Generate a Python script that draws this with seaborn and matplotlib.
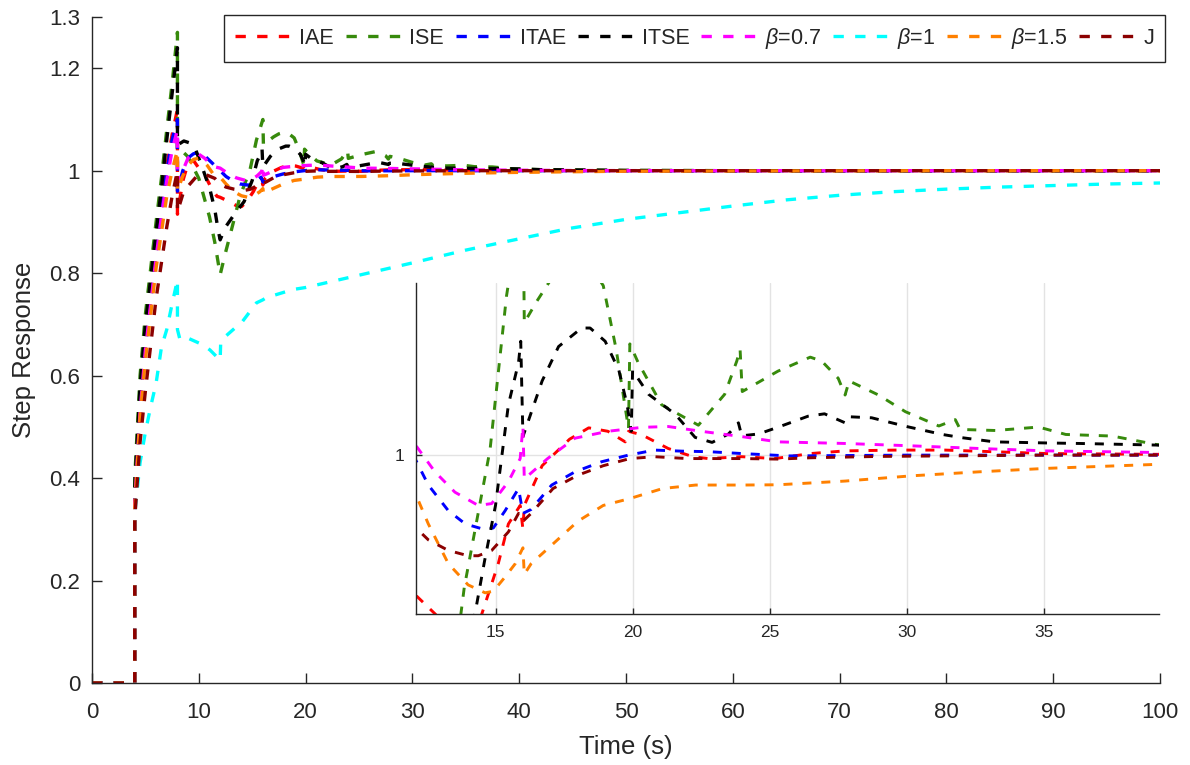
import matplotlib
matplotlib.use("Agg")
import matplotlib.pyplot as plt
import seaborn as sns
import pandas as pd

# ---------------- data ----------------
series_names = ["IAE", "ISE", "ITAE", "ITSE", r"$\beta$=0.7", r"$\beta$=1", r"$\beta$=1.5", "J"]
series_colors = ["#ff0000", "#378a0c", "#0000ff", "#000000", "#ff00ff", "#00ffff", "#ff8000", "#8b0000"]

iae_points = [(0, 0), (4, 0), (4, 0.36), (4.5, 0.55), (5, 0.67), (5.5, 0.76), (6, 0.85), (6.5, 0.93),
              (7, 1.01), (7.5, 1.07), (8, 1.12), (8, 0.915), (8.5, 0.98), (9, 1.015), (9.5, 1.02),
              (10, 1.005), (10.6, 0.99), (11.2, 0.965), (11.7, 0.95), (12, 0.948), (12.8, 0.94),
              (13.5, 0.932), (14, 0.93), (14.5, 0.94), (15.1, 0.959), (15.47, 0.974), (15.9, 0.981),
              (16.0, 0.972), (16.05, 0.981), (16.7, 0.996), (17.7, 1.006), (18.4, 1.0103), (19.1, 1.009),
              (19.73, 1.005), (19.85, 1.009), (20.35, 1.0076), (21.3, 1.0025), (22.2, 0.9994),
              (22.76, 0.9987), (23.98, 0.9994), (25.2, 0.9987), (26.5, 1.0006), (27.75, 1.0016),
              (29.6, 1.0019), (31.4, 1.0019), (35.1, 1.0006), (39.1, 1.0003), (45, 1.0), (60, 1.0),
              (80, 1.0), (100, 1.0)]

ise_points = [(0, 0), (4, 0), (4, 0.40), (4.5, 0.60), (5, 0.72), (5.5, 0.81), (6, 0.90), (6.5, 0.985),
              (7, 1.08), (7.5, 1.17), (8, 1.27), (8, 1.035), (8.5, 1.037), (9, 1.027), (10, 0.985),
              (11, 0.91), (11.5, 0.86), (12, 0.797), (12.5, 0.84), (13, 0.88), (13.86, 0.95),
              (14.8, 1.002), (15.4, 1.06), (16.0, 1.10), (16.05, 1.05), (16.5, 1.058), (17, 1.066),
              (17.5, 1.072), (18, 1.075), (18.5, 1.071), (18.93, 1.064), (19.4, 1.04), (19.85, 1.010),
              (19.9, 1.042), (20.2, 1.035), (21.06, 1.019), (22.4, 1.0113), (23.36, 1.023),
              (23.8, 1.0355), (23.92, 1.04), (24.0, 1.024), (25.3, 1.0317), (26.48, 1.037),
              (26.9, 1.0355), (27.5, 1.029), (27.75, 1.0227), (27.9, 1.028), (28.97, 1.0227),
              (29.95, 1.0164), (31.17, 1.011), (31.77, 1.0134), (31.95, 1.0097), (33.23, 1.0093),
              (34.81, 1.0106), (35.8, 1.0078), (37.5, 1.0072), (39.1, 1.004), (42, 1.002),
              (50, 1.0005), (60, 1.0), (80, 1.0), (100, 1.0)]

itae_points = [(0, 0), (4, 0), (4, 0.35), (4.5, 0.54), (5, 0.66), (5.5, 0.75), (6, 0.84), (6.5, 0.92),
               (7, 1.0), (7.5, 1.06), (8, 1.10), (8, 0.96), (8.5, 1.0), (9, 1.025), (9.5, 1.033),
               (9.9, 1.035), (10.5, 1.03), (11, 1.02), (11.5, 1.01), (12, 1.0), (12.55, 0.9887),
               (13.28, 0.979), (13.9, 0.974), (14.6, 0.9719), (14.92, 0.9725), (15.35, 0.979),
               (15.84, 0.9874), (16.0, 0.978), (16.3, 0.9795), (17.05, 0.9887), (17.9, 0.9937),
               (18.87, 0.9975), (19.85, 1.0), (20.8, 1.0019), (21.8, 1.0015), (22.77, 1.0013),
               (23.98, 1.0006), (25.69, 0.9997), (30, 1.0), (50, 1.0), (75, 1.0), (100, 1.0)]

itse_points = [(0, 0), (4, 0), (4, 0.38), (4.5, 0.58), (5, 0.70), (5.5, 0.79), (6, 0.88), (6.5, 0.965),
               (7, 1.06), (7.5, 1.15), (8, 1.24), (8, 1.05), (8.6, 1.058), (9.18, 1.054), (9.64, 1.045),
               (10.4, 1.002), (11.05, 0.963), (11.5, 0.924), (11.8, 0.885), (12.0, 0.865),
               (12.5, 0.89), (13, 0.905), (13.5, 0.92), (14.0, 0.933), (14.25, 0.94), (14.6, 0.96),
               (15.0, 0.981), (15.47, 1.019), (15.84, 1.035), (15.92, 1.043), (16.0, 1.007),
               (16.1, 1.01), (16.7, 1.028), (17.3, 1.041), (18.14, 1.048), (18.45, 1.048),
               (19.0, 1.043), (19.5, 1.032), (19.8, 1.019), (19.95, 1.009), (20.0, 1.032),
               (20.58, 1.023), (21.55, 1.0155), (22.28, 1.0067), (22.9, 1.0048), (23.5, 1.008),
               (23.86, 1.0122), (23.98, 1.0073), (24.6, 1.008), (25.4, 1.0109), (26.4, 1.0147),
               (27.0, 1.0156), (27.75, 1.0122), (27.87, 1.0145), (28.72, 1.0141), (29.95, 1.0109),
               (31.3, 1.0078), (32.0, 1.0066), (33.2, 1.005), (35.06, 1.0046), (36.3, 1.0044),
               (39.1, 1.0038), (42, 1.002), (50, 1.0005), (60, 1.0), (80, 1.0), (100, 1.0)]

b07_points = [(0, 0), (4, 0), (4, 0.35), (4.5, 0.53), (5, 0.65), (5.5, 0.74), (6, 0.83), (6.5, 0.91),
              (7, 0.98), (7.5, 1.04), (8, 1.08), (8, 0.975), (8.5, 1.0), (9, 1.025), (9.5, 1.033),
              (9.8, 1.035), (10.5, 1.025), (11.4, 1.008), (12, 1.005), (12.79, 0.9937),
              (13.52, 0.986), (14.37, 0.981), (14.86, 0.9817), (15.47, 0.99), (15.9, 0.9987),
              (16.0, 1.011), (16.05, 0.991), (16.9, 0.9987), (17.9, 1.0064), (19.1, 1.009),
              (20.35, 1.0105), (21.3, 1.0108), (22.5, 1.009), (23.98, 1.007), (25.3, 1.005),
              (27.75, 1.0044), (30.2, 1.0035), (32.65, 1.0025), (35.1, 1.0016), (39.1, 1.001),
              (45, 1.0003), (55, 1.0), (80, 1.0), (100, 1.0)]

b1_points = [(0, 0), (4, 0), (4, 0.33), (4.5, 0.43), (5, 0.49), (5.5, 0.54), (6, 0.585), (6.5, 0.655),
             (7, 0.69), (7.5, 0.74), (8, 0.787), (8, 0.69), (8.24, 0.67), (9.0, 0.673), (10.4, 0.66),
             (11.05, 0.65), (12.0, 0.63), (12.05, 0.665), (12.3, 0.673), (14.1, 0.706), (15.4, 0.742),
             (16.0, 0.748), (16.3, 0.752), (18.8, 0.768), (20, 0.772), (25, 0.796), (30, 0.82),
             (35, 0.845), (40, 0.867), (44.6, 0.887), (50, 0.905), (55, 0.918), (60, 0.931),
             (65, 0.943), (70, 0.952), (75, 0.959), (80, 0.964), (85, 0.968), (90, 0.971),
             (95, 0.974), (100, 0.976)]

b15_points = [(0, 0), (4, 0), (4, 0.34), (4.5, 0.52), (5, 0.63), (5.5, 0.72), (6, 0.81), (6.5, 0.88),
              (7, 0.95), (7.5, 1.0), (8, 1.04), (8, 0.96), (8.5, 0.99), (9, 1.01), (9.5, 1.022),
              (10.1, 1.025), (10.8, 1.01), (11.4, 0.992), (12, 0.9874), (12.55, 0.974),
              (13.28, 0.959), (14.0, 0.951), (14.62, 0.948), (14.92, 0.9486), (15.35, 0.954),
              (15.72, 0.959), (16.0, 0.965), (16.05, 0.955), (16.3, 0.959), (17.1, 0.9665),
              (18.0, 0.975), (18.93, 0.981), (19.9, 0.9836), (21.1, 0.9874), (22.3, 0.9887),
              (23.98, 0.9887), (25.3, 0.9888), (27.75, 0.9902), (30.2, 0.9922), (32.65, 0.9937),
              (35.1, 0.995), (39.1, 0.9965), (45, 0.998), (50, 0.999), (60, 0.9995), (80, 1.0),
              (100, 1.0)]

j_points = [(0, 0), (4, 0), (4, 0.32), (4.5, 0.47), (5, 0.57), (5.5, 0.66), (6, 0.75), (6.5, 0.82),
            (7, 0.89), (7.5, 0.95), (8, 1.0), (8, 0.92), (8.55, 0.957), (9, 0.97), (9.8, 0.989),
            (10.7, 0.992), (11.5, 0.985), (12, 0.9735), (12.55, 0.968), (13.28, 0.964), (14.0, 0.962),
            (14.37, 0.962), (14.86, 0.964), (15.47, 0.971), (15.84, 0.978), (16.0, 0.975),
            (16.3, 0.978), (17.1, 0.9874), (18.0, 0.9924), (18.93, 0.996), (19.9, 0.9987),
            (20.8, 0.9994), (22.0, 0.9987), (24.0, 0.9987), (25.3, 0.9985), (26.5, 0.999),
            (28.97, 0.9995), (35, 1.0), (60, 1.0), (80, 1.0), (100, 1.0)]

main_xticks = [0, 10, 20, 30, 40, 50, 60, 70, 80, 90, 100]
main_yticks = [0, 0.2, 0.4, 0.6, 0.8, 1.0, 1.2, 1.3]
main_yticklabels = ["0", "0.2", "0.4", "0.6", "0.8", "1", "1.2", "1.3"]
inset_xticks = [15, 20, 25, 30, 35]
inset_yticks = [1]

all_points = [iae_points, ise_points, itae_points, itse_points,
              b07_points, b1_points, b15_points, j_points]

rows = []
for name, pts in zip(series_names, all_points):
    for t, y in pts:
        rows.append({"series": name, "t": t, "y": y})
df = pd.DataFrame(rows)

# ---------------- style ----------------
sns.set_theme(style="white")
plt.rcParams["font.family"] = ["Liberation Sans", "DejaVu Sans"]
plt.rcParams["mathtext.fontset"] = "custom"
plt.rcParams["mathtext.it"] = "Liberation Sans:italic"
plt.rcParams["mathtext.rm"] = "Liberation Sans"
TXT = "#262626"

dash = (0, (3.1, 3.4))
palette = dict(zip(series_names, series_colors))

fig = plt.figure(figsize=(11.9, 7.65), dpi=100)
ax = fig.add_axes([92 / 1190, 1 - 683 / 765, 1068 / 1190, 666 / 765])

sns.lineplot(data=df, x="t", y="y", hue="series", hue_order=series_names, palette=palette,
             sort=False, estimator=None, linewidth=2.4, linestyle=dash, legend=False, ax=ax)

ax.set_xlim(0, 100)
ax.set_ylim(0, 1.3)
ax.set_xticks(main_xticks)
ax.set_yticks(main_yticks)
ax.set_yticklabels(main_yticklabels)
for s in ["top", "right"]:
    ax.spines[s].set_visible(False)
for s in ["left", "bottom"]:
    ax.spines[s].set_color(TXT)
    ax.spines[s].set_linewidth(1.0)
ax.tick_params(axis="both", direction="in", length=7.5, width=1.0, colors=TXT, labelsize=16,
               bottom=True, left=True, top=False, right=False)
ax.tick_params(axis="y", pad=8.6)
ax.tick_params(axis="x", pad=13.5)
ax.set_xlabel("Time (s)", fontsize=18.5, color=TXT)
ax.set_ylabel("Step Response", fontsize=18.5, color=TXT)
ax.xaxis.set_label_coords(0.5, -0.078)
ax.yaxis.set_label_coords(-0.052, 0.5)

handles = ax.get_lines()[:len(series_names)]
leg = ax.legend(handles, series_names, ncol=8, loc="upper right", bbox_to_anchor=(1.0047, 1.003),
                fontsize=15.5, handlelength=2.55, handletextpad=0.42, columnspacing=0.55,
                borderpad=0.5, borderaxespad=0, frameon=True, fancybox=False, framealpha=1)
leg.get_frame().set_edgecolor(TXT)
leg.get_frame().set_linewidth(1.0)
for txt in leg.get_texts():
    txt.set_color(TXT)

# ---------------- inset ----------------
ax_in = fig.add_axes([416 / 1190, 1 - 614 / 765, (1159 - 416) / 1190, (614 - 283) / 765])
ax_in.set_facecolor("white")
ax_in.set_axisbelow(True)
ax_in.grid(True, color="#e3e3e3", linewidth=1.0)
sns.lineplot(data=df, x="t", y="y", hue="series", hue_order=series_names, palette=palette,
             sort=False, estimator=None, linewidth=2.1, linestyle=dash, legend=False, ax=ax_in)
ax_in.set_xlim(12.1, 39.2)
ax_in.set_ylim(0.94, 1.065)
ax_in.set_xticks(inset_xticks)
ax_in.set_yticks(inset_yticks)
ax_in.set_yticklabels(["1"])
ax_in.set_xlabel("")
ax_in.set_ylabel("")
for s in ["top", "right"]:
    ax_in.spines[s].set_visible(False)
for s in ["left", "bottom"]:
    ax_in.spines[s].set_color(TXT)
    ax_in.spines[s].set_linewidth(1.0)
ax_in.tick_params(axis="both", direction="in", length=4.5, width=1.0, colors=TXT, labelsize=12.5,
                  bottom=True, left=True, top=False, right=False)
ax_in.tick_params(axis="y", pad=8.6)
ax_in.tick_params(axis="x", pad=8)

fig.savefig("out.png", dpi=100)
